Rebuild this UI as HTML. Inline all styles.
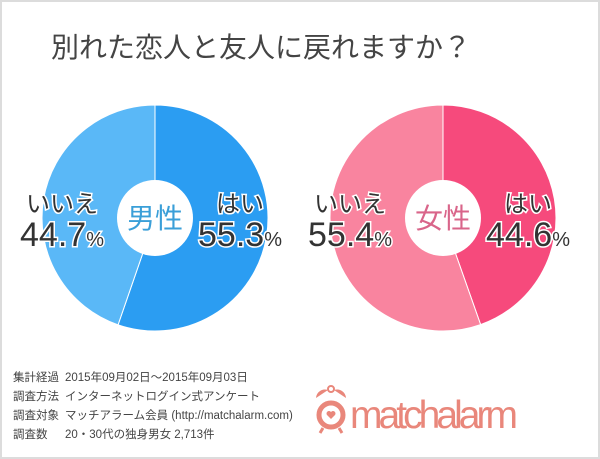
<!DOCTYPE html>
<html><head><meta charset="utf-8"><style>
body{margin:0;width:600px;height:459px;overflow:hidden;background:#fff;font-family:"Liberation Sans","Noto Sans CJK JP",sans-serif}
#frame{position:absolute;left:0;top:0;width:596px;height:455px;border:2px solid #dcdcdc}
</style></head><body>
<div id="frame"></div>
<svg id="chart" width="600" height="459" style="position:absolute;left:0;top:0">
<text x="261" y="57" text-anchor="middle" font-size="28" fill="#444">別れた恋人と友人に戻れますか？</text>
<g id="pies"></g>
<g font-size="11.5" fill="#444">
<text x="13" y="381">集計経過</text><text x="65" y="381">2015年09月02日～2015年09月03日</text>
<text x="13" y="400">調査方法</text><text x="65" y="400">インターネットログイン式アンケート</text>
<text x="13" y="419">調査対象</text><text x="65" y="419">マッチアラーム会員 (http://matchalarm.com)</text>
<text x="13" y="438">調査数</text><text x="65" y="438">20・30代の独身男女 2,713件</text>
</g>
<g>
<circle cx="331" cy="415" r="12" fill="none" stroke="#e9877b" stroke-width="5"/>
<path d="M316 398 a9 9 0 0 1 12 -8 z M346 398 a9 9 0 0 0 -12 -8 z" fill="#e9877b"/>
<circle cx="331" cy="389" r="3" fill="none" stroke="#e9877b" stroke-width="2"/>
<path d="M331 419 l-4 -4 a2.5 2.5 0 0 1 4 -3 a2.5 2.5 0 0 1 4 3 z" fill="#e9877b"/>
<line x1="323" y1="428" x2="320" y2="433" stroke="#e9877b" stroke-width="3"/>
<line x1="339" y1="428" x2="342" y2="433" stroke="#e9877b" stroke-width="3"/>
<text x="350" y="428" font-size="39" fill="#e9877b" textLength="168">matchalarm</text>
</g>
</svg>
<script>
const groups=["男性","女性"];
const yesValues=[55.3,44.6];
const noValues=[44.7,55.4];
const centers=[155,443];
const yesColors=["#2b9df2","#f64a7c"];
const noColors=["#5ab8f7","#f9849f"];
const centerColors=["#3a9fd8","#d9658a"];
const NS="http://www.w3.org/2000/svg";
const g=document.getElementById('pies');
const cy=218,R=113,r0=38;
function pt(cx,a,r){return [cx+r*Math.sin(a),cy-r*Math.cos(a)];}
function mk(tag,attrs){const e=document.createElementNS(NS,tag);for(const k in attrs)e.setAttribute(k,attrs[k]);g.appendChild(e);return e;}
function slice(cx,a0,a1,col){const p0=pt(cx,a0,R),p1=pt(cx,a1,R);const large=(a1-a0)>Math.PI?1:0;
return mk('path',{d:`M${cx} ${cy} L${p0[0]} ${p0[1]} A${R} ${R} 0 ${large} 1 ${p1[0]} ${p1[1]} Z`,fill:col,stroke:'#fff','stroke-width':1});}
groups.forEach((name,i)=>{
 const cx=centers[i];const tot=yesValues[i]+noValues[i];
 const ay=yesValues[i]/tot*2*Math.PI;
 const s1=slice(cx,0,ay,yesColors[i]);
 
 
 const s2=slice(cx,ay,2*Math.PI,noColors[i]);
 
 
 const hole=mk('circle',{cx:cx,cy:cy,r:r0,fill:'#fff'});
 
 
 const ct=mk('text',{x:cx,y:cy+10,'text-anchor':'middle','font-size':28,fill:centerColors[i]});
 ct.textContent=name;
 
 
 const lab=[[cx-93,'いいえ',noValues[i]],[cx+85,'はい',yesValues[i]]];
 lab.forEach((l,j)=>{
  const t=mk('text',{x:l[0],y:212,'text-anchor':'middle','font-size':24,fill:'#333',stroke:'#fff','stroke-width':3,'paint-order':'stroke'});
  t.textContent=l[1];
  
  
  const v=mk('text',{x:l[0],y:246,'text-anchor':'middle','font-size':34,fill:'#333',stroke:'#fff','stroke-width':3,'paint-order':'stroke'});
  v.innerHTML=l[2].toFixed(1)+'<tspan font-size="20">%</tspan>';
  
  
 });
});
</script>
</body></html>
